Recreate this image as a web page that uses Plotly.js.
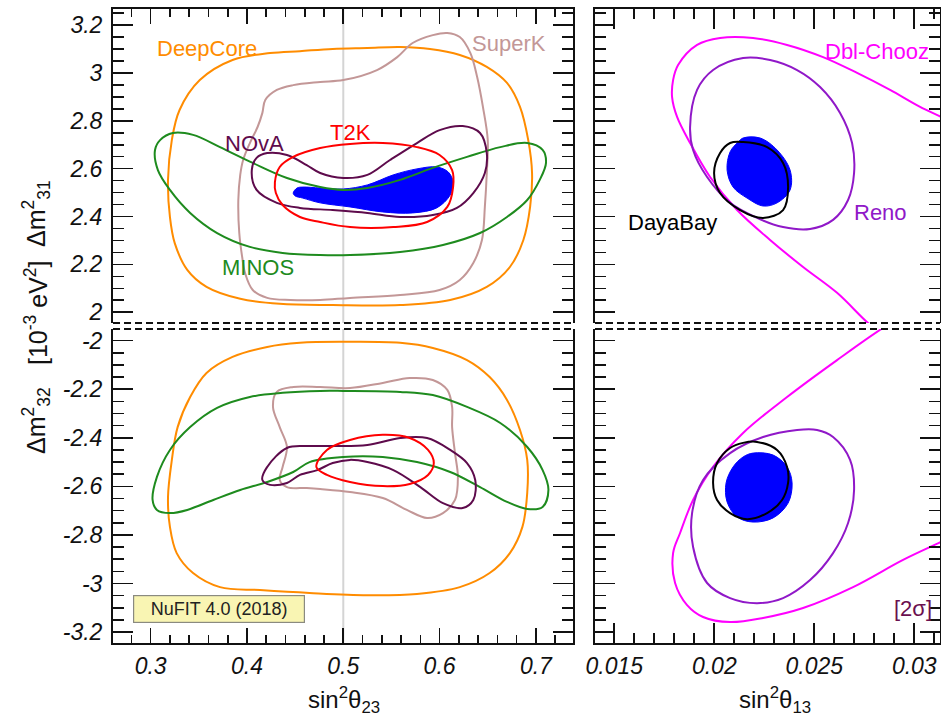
<!DOCTYPE html>
<html><head><meta charset="utf-8">
<script src="https://cdn.plot.ly/plotly-3.0.1.min.js"></script>
<style>body{margin:0;background:#fff}#chart{width:941px;height:721px}</style>
</head><body><div id="chart"></div>
<script>
// ---------- Upper-left panel (sin^2 theta23 vs dm31^2) ----------
const deepcoreUpX = [0.318,0.322,0.330,0.351,0.385,0.424,0.455,0.489,0.525,0.559,0.590,0.621,0.649,0.670,0.6835,0.692,0.696,0.694,0.687,0.673,0.649,0.611,0.559,0.489,0.434,0.393,0.358,0.338,0.325,0.320,0.318];
const deepcoreUpY = [2.553,2.720,2.845,2.970,3.054,3.083,3.091,3.100,3.104,3.108,3.100,3.075,3.025,2.958,2.858,2.720,2.582,2.440,2.302,2.189,2.106,2.051,2.030,2.030,2.035,2.056,2.106,2.177,2.289,2.398,2.553];
const superkUpX = [0.476,0.448,0.431,0.419,0.416,0.411,0.403,0.396,0.393,0.391,0.392,0.395,0.398,0.406,0.421,0.445,0.476,0.507,0.559,0.600,0.621,0.635,0.644,0.647,0.649,0.650,0.645,0.639,0.632,0.621,0.608,0.593,0.572,0.556,0.535,0.500,0.476];
const superkUpY = [2.962,2.949,2.929,2.887,2.833,2.774,2.707,2.636,2.574,2.469,2.331,2.231,2.164,2.093,2.060,2.051,2.051,2.060,2.072,2.093,2.135,2.206,2.302,2.440,2.582,2.720,2.858,2.983,3.083,3.150,3.167,3.158,3.125,3.066,3.012,2.970,2.962];
const novaUpX = [0.405,0.410,0.421,0.4415,0.462,0.476,0.500,0.525,0.5485,0.5765,0.600,0.624,0.642,0.649,0.647,0.635,0.618,0.593,0.559,0.525,0.489,0.455,0.431,0.410,0.405];
const novaUpY = [2.594,2.645,2.665,2.657,2.615,2.582,2.561,2.574,2.636,2.707,2.761,2.778,2.749,2.665,2.582,2.498,2.436,2.406,2.398,2.415,2.427,2.436,2.457,2.511,2.594];
const t2kUpX = [0.429,0.434,0.448,0.476,0.507,0.541,0.5765,0.600,0.613,0.614,0.608,0.587,0.552,0.507,0.476,0.455,0.437,0.430,0.429];
const t2kUpY = [2.544,2.607,2.649,2.686,2.703,2.707,2.690,2.657,2.594,2.523,2.440,2.377,2.356,2.356,2.377,2.398,2.448,2.498,2.544];
const fitUpLX = [0.448,0.452,0.458,0.476,0.500,0.525,0.552,0.5765,0.597,0.609,0.614,0.611,0.597,0.572,0.541,0.507,0.476,0.458,0.450,0.448];
const fitUpLY = [2.498,2.519,2.523,2.519,2.515,2.532,2.574,2.599,2.607,2.586,2.544,2.490,2.436,2.415,2.419,2.440,2.457,2.477,2.486,2.498];
const minosUpX = [0.3045,0.310,0.323,0.344,0.372,0.406,0.4415,0.476,0.500,0.525,0.559,0.593,0.6285,0.663,0.691,0.707,0.7105,0.704,0.691,0.670,0.642,0.6035,0.559,0.507,0.476,0.437,0.403,0.369,0.341,0.320,0.3075,0.3045];
const minosUpY = [2.678,2.720,2.749,2.741,2.690,2.624,2.561,2.523,2.511,2.519,2.553,2.603,2.649,2.690,2.707,2.678,2.624,2.553,2.469,2.398,2.331,2.281,2.252,2.239,2.239,2.248,2.273,2.331,2.415,2.511,2.594,2.678];

// ---------- Lower-left panel (sin^2 theta23 vs dm32^2) ----------
const deepcoreDnX = [0.318,0.320,0.327,0.344,0.372,0.4135,0.465,0.525,0.5765,0.621,0.652,0.673,0.686,0.691,0.691,0.6835,0.670,0.652,0.6285,0.593,0.559,0.500,0.455,0.421,0.385,0.358,0.341,0.328,0.322,0.318];
const deepcoreDnY = [-2.644,-2.767,-2.875,-2.957,-3.015,-3.027,-3.039,-3.048,-3.043,-3.015,-2.957,-2.875,-2.767,-2.627,-2.491,-2.368,-2.244,-2.150,-2.080,-2.030,-2.009,-2.005,-2.009,-2.026,-2.067,-2.133,-2.232,-2.356,-2.491,-2.644];
const minosDnX = [0.302,0.3065,0.320,0.341,0.369,0.403,0.437,0.476,0.500,0.559,0.593,0.6285,0.663,0.691,0.707,0.713,0.707,0.691,0.670,0.642,0.611,0.5765,0.541,0.500,0.465,0.448,0.421,0.393,0.365,0.338,0.320,0.3065,0.302];
const minosDnY = [-2.656,-2.561,-2.450,-2.356,-2.277,-2.232,-2.215,-2.207,-2.207,-2.211,-2.224,-2.273,-2.339,-2.438,-2.533,-2.615,-2.685,-2.693,-2.664,-2.603,-2.541,-2.500,-2.479,-2.479,-2.500,-2.541,-2.582,-2.615,-2.656,-2.697,-2.710,-2.697,-2.656];
const superkDnX = [0.476,0.448,0.431,0.427,0.434,0.4415,0.437,0.434,0.4415,0.462,0.476,0.507,0.541,0.566,0.587,0.6035,0.616,0.619,0.616,0.613,0.613,0.608,0.593,0.569,0.541,0.507,0.476];
const superkDnY = [-2.191,-2.191,-2.211,-2.273,-2.356,-2.438,-2.520,-2.574,-2.603,-2.607,-2.611,-2.623,-2.648,-2.697,-2.730,-2.710,-2.656,-2.561,-2.463,-2.356,-2.273,-2.203,-2.162,-2.154,-2.174,-2.195,-2.191];
const novaDnX = [0.416,0.421,0.4415,0.462,0.489,0.525,0.559,0.587,0.611,0.6285,0.637,0.635,0.624,0.6035,0.580,0.552,0.525,0.507,0.489,0.473,0.455,0.4415,0.424,0.416];
const novaDnY = [-2.574,-2.520,-2.442,-2.434,-2.434,-2.430,-2.401,-2.401,-2.450,-2.504,-2.574,-2.656,-2.689,-2.669,-2.603,-2.533,-2.500,-2.491,-2.504,-2.533,-2.553,-2.586,-2.594,-2.574];
const t2kDnX = [0.472,0.483,0.507,0.541,0.569,0.588,0.594,0.588,0.569,0.541,0.507,0.483,0.472];
const t2kDnY = [-2.520,-2.450,-2.409,-2.388,-2.401,-2.450,-2.504,-2.553,-2.590,-2.599,-2.582,-2.553,-2.520];

// ---------- Upper-right panel (sin^2 theta13 vs dm31^2) ----------
const choozUpX = [0.02829,0.02769,0.02614,0.02444,0.02279,0.02114,0.01979,0.01879,0.01814,0.01789,0.01794,0.01819,0.01914,0.02029,0.02194,0.02364,0.02544,0.02714,0.02879,0.03029,0.03134,0.03229];
const choozUpY = [1.918,1.955,2.081,2.189,2.302,2.427,2.565,2.707,2.816,2.899,2.970,3.033,3.117,3.146,3.146,3.117,3.066,3.000,2.929,2.858,2.816,2.774];
const renoUpX = [0.01879,0.01914,0.01994,0.02144,0.02279,0.02414,0.02529,0.02629,0.02689,0.02699,0.02669,0.02594,0.02479,0.02344,0.02214,0.02079,0.01964,0.01894,0.01879];
const renoUpY = [2.774,2.929,3.012,3.062,3.054,3.012,2.941,2.833,2.707,2.582,2.469,2.386,2.348,2.356,2.394,2.457,2.565,2.678,2.774];
const dayabayUpX = [0.02144,0.02264,0.02344,0.02369,0.02344,0.02244,0.02129,0.02029,0.01999,0.02029,0.02079,0.02144];
const dayabayUpY = [2.711,2.690,2.624,2.523,2.427,2.394,2.427,2.498,2.582,2.665,2.707,2.711];
const fitUpRX = [0.02144,0.02229,0.02314,0.02379,0.02379,0.02314,0.02244,0.02164,0.02094,0.02064,0.02079,0.02119,0.02144];
const fitUpRY = [2.728,2.728,2.678,2.594,2.511,2.457,2.444,2.477,2.523,2.594,2.670,2.711,2.728];

// ---------- Lower-right panel (sin^2 theta13 vs dm32^2) ----------
const choozDnX = [0.02904,0.02844,0.02614,0.02364,0.02144,0.01994,0.01894,0.01829,0.01794,0.01804,0.01864,0.01944,0.02079,0.02244,0.02444,0.02694,0.02944,0.03134,0.03229];
const choozDnY = [-1.923,-1.948,-2.080,-2.232,-2.380,-2.520,-2.656,-2.792,-2.875,-2.998,-3.089,-3.138,-3.159,-3.142,-3.101,-3.015,-2.903,-2.829,-2.792];
const renoDnX = [0.02414,0.02244,0.02079,0.01944,0.01889,0.01894,0.01964,0.02079,0.02214,0.02344,0.02479,0.02594,0.02669,0.02699,0.02679,0.02594,0.02514,0.02414];
const renoDnY = [-2.368,-2.397,-2.463,-2.574,-2.710,-2.850,-2.998,-3.060,-3.081,-3.060,-2.986,-2.875,-2.751,-2.615,-2.491,-2.397,-2.368,-2.368];
const dayabayDnX = [0.02214,0.02314,0.02364,0.02369,0.02339,0.02264,0.02164,0.02079,0.02014,0.01994,0.02014,0.02079,0.02144,0.02214];
const dayabayDnY = [-2.417,-2.450,-2.520,-2.586,-2.656,-2.710,-2.735,-2.710,-2.656,-2.586,-2.504,-2.442,-2.421,-2.417];
const fitDnRX = [0.02194,0.02294,0.02364,0.02389,0.02369,0.02294,0.02194,0.02114,0.02064,0.02059,0.02094,0.02144,0.02194];
const fitDnRY = [-2.463,-2.471,-2.520,-2.586,-2.669,-2.730,-2.747,-2.726,-2.664,-2.586,-2.520,-2.479,-2.463];

// ---------- Ticks ----------
const lowerYTickVals = [-3.2,-3.0,-2.8,-2.6,-2.4,-2.2,-2.0];
const lowerYTickText = ["-3.2","-3","-2.8","-2.6","-2.4","-2.2","-2"];

// ---------- Colours ----------
const C = {
  deepcore:'#FF8C00', superk:'#C39797', nova:'#5E0B4C', t2k:'#FF0000', minos:'#1E8B1E',
  fit:'#0000FF', chooz:'#FF00FF', reno:'#9018C8', dayabay:'#000000', sigma:'#6B1050'
};

const FONT = 'Liberation Sans, Arial, Helvetica, sans-serif';
const traces = [];
function line(x, y, color, xa, ya) {
  traces.push({type:'scatter', mode:'lines', x, y, xaxis:xa, yaxis:ya, hoverinfo:'skip',
    line:{color, width:2, shape:'spline', smoothing:1}, showlegend:false});
}
function blob(x, y, xa, ya) {
  traces.push({type:'scatter', mode:'lines', x, y, xaxis:xa, yaxis:ya, hoverinfo:'skip',
    fill:'toself', fillcolor:C.fit, line:{color:C.fit, width:1, shape:'spline', smoothing:1}, showlegend:false});
}
// upper left
blob(fitUpLX, fitUpLY, 'x', 'y');
line(deepcoreUpX, deepcoreUpY, C.deepcore, 'x', 'y');
line(superkUpX, superkUpY, C.superk, 'x', 'y');
line(minosUpX, minosUpY, C.minos, 'x', 'y');
line(novaUpX, novaUpY, C.nova, 'x', 'y');
line(t2kUpX, t2kUpY, C.t2k, 'x', 'y');
// lower left
line(deepcoreDnX, deepcoreDnY, C.deepcore, 'x2', 'y2');
line(superkDnX, superkDnY, C.superk, 'x2', 'y2');
line(minosDnX, minosDnY, C.minos, 'x2', 'y2');
line(novaDnX, novaDnY, C.nova, 'x2', 'y2');
line(t2kDnX, t2kDnY, C.t2k, 'x2', 'y2');
// upper right
blob(fitUpRX, fitUpRY, 'x3', 'y3');
line(choozUpX, choozUpY, C.chooz, 'x3', 'y3');
line(renoUpX, renoUpY, C.reno, 'x3', 'y3');
line(dayabayUpX, dayabayUpY, C.dayabay, 'x3', 'y3');
// lower right
blob(fitDnRX, fitDnRY, 'x4', 'y4');
line(choozDnX, choozDnY, C.chooz, 'x4', 'y4');
line(renoDnX, renoDnY, C.reno, 'x4', 'y4');
line(dayabayDnX, dayabayDnY, C.dayabay, 'x4', 'y4');

const xL = [0.1201, 0.6089], xR = [0.6323, 0.9989];
const yU = [0.5520, 0.9875], yD = [0.1082, 0.5437];
const rL = [0.2609, 0.7385], rR = [0.014035, 0.031285];
const rU = [1.955, 3.267], rD = [-3.245, -1.952];

const tickFont = {family:FONT, size:23, color:'#111', style:'italic'};
function xax(domain, range, anchor, side, labels, major, minor, len, mlen) {
  return {domain, range, anchor, side, showticklabels:labels, tickfont:tickFont,
    ticks:'inside', ticklen:len, tickwidth:1.6, tickcolor:'#111', tick0:0, dtick:major,
    minor:{ticks:'inside', ticklen:mlen, tickwidth:1.6, tickcolor:'#111', tickmode:'linear', tick0:0, dtick:minor},
    showline:true, linewidth:2, linecolor:'#111', showgrid:false, zeroline:false, fixedrange:true,
    ticklabelstandoff:1};
}
function yax(domain, range, anchor, labels, extra) {
  return Object.assign({domain, range, anchor, showticklabels:labels, tickfont:tickFont,
    ticks:'inside', ticklen:20, tickwidth:1.6, tickcolor:'#111', tick0:0, dtick:0.2,
    minor:{ticks:'inside', ticklen:11, tickwidth:1.6, tickcolor:'#111', tickmode:'linear', tick0:0, dtick:0.05},
    showline:true, mirror:'ticks', linewidth:2, linecolor:'#111', showgrid:false, zeroline:false, fixedrange:true,
    ticklabelstandoff:4}, extra || {});
}

const lowerTicks = {tickmode:'array', tickvals:lowerYTickVals, ticktext:lowerYTickText};

function lab(text, x, y, color, xa, ya, size) {
  return {text, x, y, xref:xa, yref:ya, xanchor:'center', yanchor:'middle', showarrow:false,
    font:{family:FONT, size:size||22, color}};
}
function paperText(text, px, py, size, extra) {
  return Object.assign({text, xref:'paper', yref:'paper', x:px/941, y:1-py/721, xanchor:'center', yanchor:'middle',
    showarrow:false, font:{family:FONT, size, color:'#111'}}, extra || {});
}
const annotations = [
  lab('DeepCore', 0.358, 3.100, C.deepcore, 'x', 'y'),
  lab('SuperK', 0.672, 3.121, C.superk, 'x', 'y'),
  lab('NOvA', 0.408, 2.703, C.nova, 'x', 'y'),
  lab('T2K', 0.507, 2.749, C.t2k, 'x', 'y'),
  lab('MINOS', 0.4115, 2.189, C.minos, 'x', 'y'),
  lab('Dbl-Chooz', 0.02814, 3.091, C.chooz, 'x3', 'y3'),
  lab('Reno', 0.02829, 2.415, C.reno, 'x3', 'y3'),
  lab('DayaBay', 0.01793, 2.373, C.dayabay, 'x3', 'y3'),
  lab('[2σ]', 0.02994, -3.105, C.sigma, 'x4', 'y4'),
  paperText('NuFIT 4.0 (2018)', 219, 608.5, 18, {font:{family:FONT, size:18, color:'#222'},
    bgcolor:'#F9F5B3', bordercolor:'#8A8A80', borderwidth:1.2, width:168, height:24, align:'center'}),
  paperText('sin<sup>2</sup>θ<sub>23</sub>', 344, 700, 24),
  paperText('sin<sup>2</sup>θ<sub>13</sub>', 775, 700, 24),
  paperText('Δm<sup>2</sup><sub>31</sub>', 36, 214, 25, {textangle:-90}),
  paperText('[10<sup>-3</sup> eV<sup>2</sup>]', 36, 313, 25, {textangle:-90}),
  paperText('Δm<sup>2</sup><sub>32</sub>', 36, 421, 25, {textangle:-90})
];

const dash = {color:'#111', width:2, dash:'7px,4px'};
const shapes = [
  {type:'line', xref:'paper', yref:'paper', x0:xL[0], x1:xL[1], y0:yU[0], y1:yU[0], line:dash},
  {type:'line', xref:'paper', yref:'paper', x0:xR[0], x1:xR[1], y0:yU[0], y1:yU[0], line:dash},
  {type:'line', xref:'paper', yref:'paper', x0:xL[0], x1:xL[1], y0:yD[1], y1:yD[1], line:dash},
  {type:'line', xref:'paper', yref:'paper', x0:xR[0], x1:xR[1], y0:yD[1], y1:yD[1], line:dash},
  {type:'line', xref:'x', yref:'y domain', x0:0.5, x1:0.5, y0:0, y1:1, layer:'below', line:{color:'#D4D4D4', width:2}},
  {type:'line', xref:'x2', yref:'y2 domain', x0:0.5, x1:0.5, y0:0, y1:1, layer:'below', line:{color:'#D4D4D4', width:2}}
];

const layout = {
  width:941, height:721, margin:{l:0, r:0, t:0, b:0},
  paper_bgcolor:'#fff', plot_bgcolor:'rgba(0,0,0,0)', showlegend:false,
  font:{family:FONT, color:'#111'},
  xaxis: xax(xL, rL, 'y', 'top', false, 0.1, 0.02, 15, 8),
  yaxis: yax(yU, rU, 'x', true),
  xaxis2: xax(xL, rL, 'y2', 'bottom', true, 0.1, 0.02, 15, 8),
  yaxis2: yax(yD, rD, 'x2', true, lowerTicks),
  xaxis3: xax(xR, rR, 'y3', 'top', false, 0.005, 0.001, 20, 10),
  yaxis3: yax(yU, rU, 'x3', false),
  xaxis4: xax(xR, rR, 'y4', 'bottom', true, 0.005, 0.001, 20, 10),
  yaxis4: yax(yD, rD, 'x4', false, lowerTicks),
  annotations, shapes
};
Plotly.newPlot('chart', traces, layout, {staticPlot:true, displayModeBar:false});
</script></body></html>
